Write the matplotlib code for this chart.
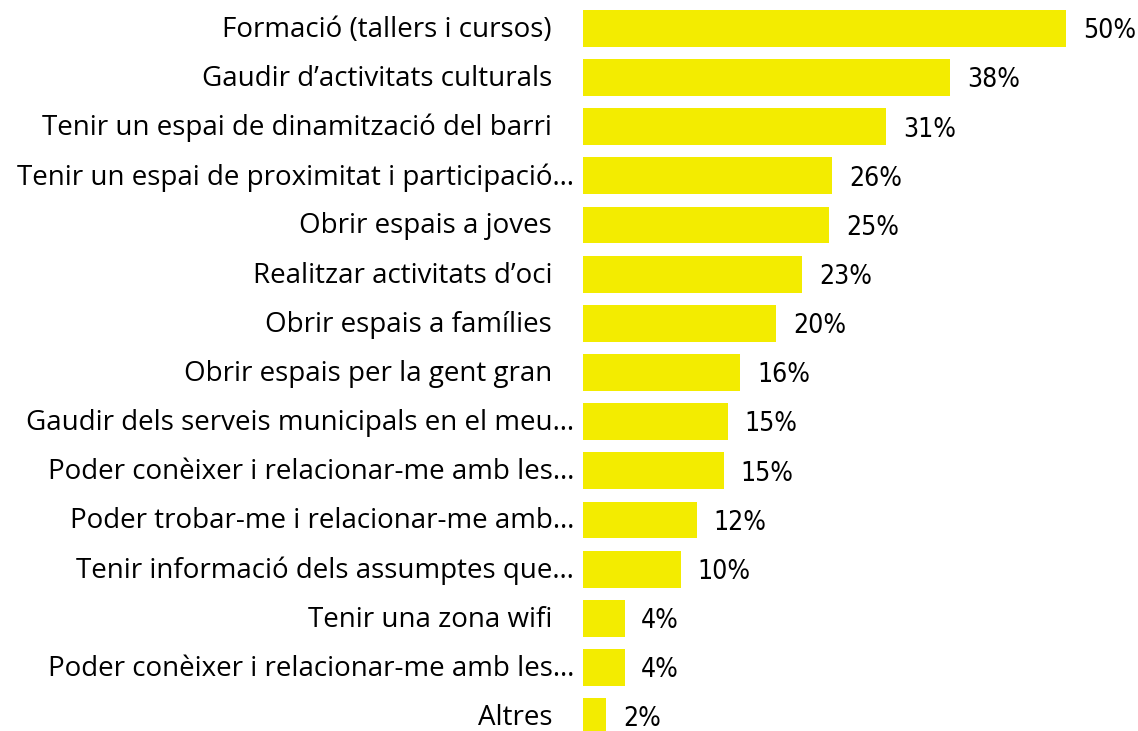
import matplotlib
matplotlib.use("Agg")
import matplotlib.pyplot as plt
from matplotlib import font_manager

categories = [
    "Formació (tallers i cursos)",
    "Gaudir d’activitats culturals",
    "Tenir un espai de dinamització del barri",
    "Tenir un espai de proximitat i participació…",
    "Obrir espais a joves",
    "Realitzar activitats d’oci",
    "Obrir espais a famílies",
    "Obrir espais per la gent gran",
    "Gaudir dels serveis municipals en el meu…",
    "Poder conèixer i relacionar-me amb les…",
    "Poder trobar-me i relacionar-me amb…",
    "Tenir informació dels assumptes que…",
    "Tenir una zona wifi",
    "Poder conèixer i relacionar-me amb les…",
    "Altres",
]
values = [50.0, 38.0, 31.4, 25.8, 25.5, 22.7, 20.0, 16.3, 15.0, 14.6, 11.8, 10.1, 4.3, 4.3, 2.4]
value_labels = ["50%", "38%", "31%", "26%", "25%", "23%", "20%", "16%", "15%", "15%", "12%", "10%", "4%", "4%", "2%"]

ttf = font_manager.fontManager.ttflist
names = {f.name for f in ttf}
val_font = dict(family="Liberation Sans", fontsize=20)
if "Liberation Sans Narrow" in names:
    val_font = dict(family="Liberation Sans Narrow", fontsize=21)
elif any(f.name == "DejaVu Sans" and "ondensed" in f.fname for f in ttf):
    val_font = dict(family="DejaVu Sans", fontstretch="condensed", fontsize=19)

fig = plt.figure(figsize=(11.38, 7.31), dpi=100)
W, H = 1138, 731
left_px, right_px, top_px, bottom_px = 583, 1066, 10, 735
ax = fig.add_axes([left_px / W, 1 - bottom_px / H, (right_px - left_px) / W, (bottom_px - top_px) / H])

y = list(range(len(categories)))
ax.barh(y, values, height=0.75, color="#F3EC00")
ax.set_xlim(0, 50)
ax.set_ylim(len(categories) - 1 + 0.375, -0.375)

for yi, v, lab in zip(y, values, value_labels):
    ax.annotate(lab, xy=(v, yi), xytext=(12, -2), textcoords="offset points",
                va="center", ha="left", color="#000000", annotation_clip=False, **val_font)

for yi, cat in zip(y, categories):
    off = -6.5 if cat.endswith("…") else -22.3
    ax.annotate(cat, xy=(0, yi), xytext=(off, -1), textcoords="offset points",
                va="center", ha="right", fontsize=20, family="Open Sans",
                color="#000000", annotation_clip=False)

ax.set_yticks([])
ax.set_xticks([])
for s in ax.spines.values():
    s.set_visible(False)

fig.savefig("out.png", dpi=100)
